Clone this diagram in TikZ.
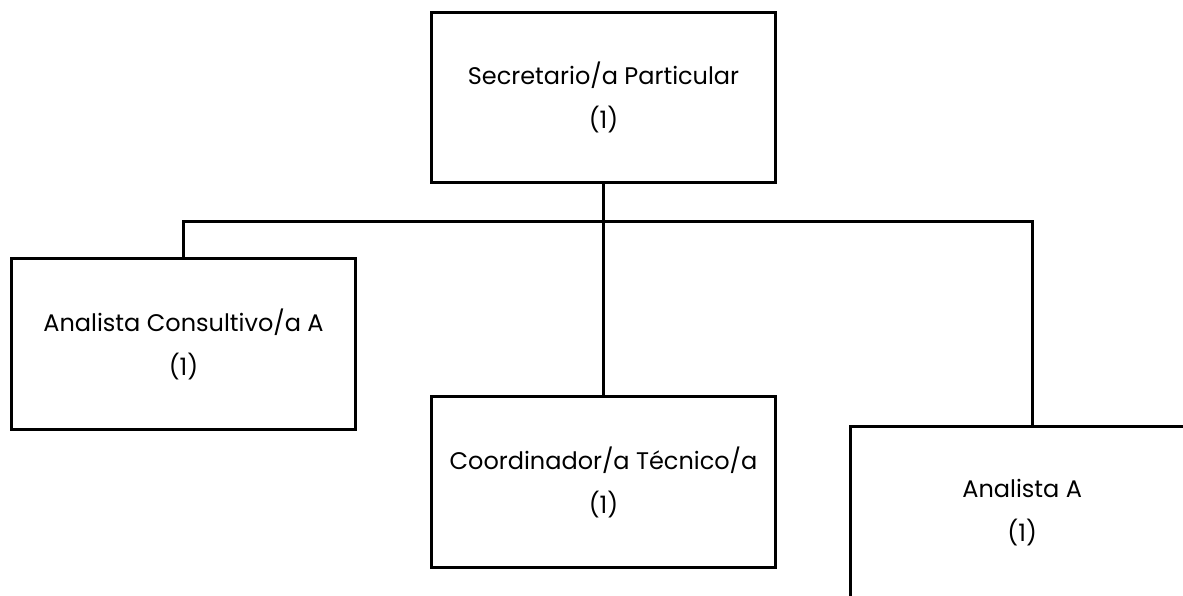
\documentclass[tikz,border=0pt]{standalone}
\usepackage{fontspec}
\setmainfont{Poppins}
\usetikzlibrary{positioning}
\tikzset{
    post/.style={draw, line width=2.25pt, minimum width=258pt, minimum height=128pt,
                 align=center, font=\fontsize{18}{33}\selectfont},
    link/.style={line width=2.25pt},
}

\begin{document}
\begin{tikzpicture}[x=0.75pt,y=-0.75pt,on grid]
   \useasboundingbox (0,0) rectangle (1183,596);
   \node[post] (sec) at (603.5,97.5) {Secretario/a Particular\\(1)};
   \node[post] (acon) [below left=185pt and 315pt of sec] {Analista Consultivo/a A\\(1)};
   \node[post] (ctec) [below=288.5pt of sec] {Coordinador/a Técnico/a\\(1)};
   \node[post] (ana) [below right=311pt and 314pt of sec] {Analista A\\(1)};
   \coordinate [below=27.5pt of sec.south] (bus);
   \coordinate [right=7.5pt of ana.north] (anatop);
   \draw[link] (sec.south) -- (bus);
   \draw[link] (acon.north) |- (bus) -| (anatop);
   \draw[link] (bus) -- (ctec.north);
\end{tikzpicture}
\end{document}
